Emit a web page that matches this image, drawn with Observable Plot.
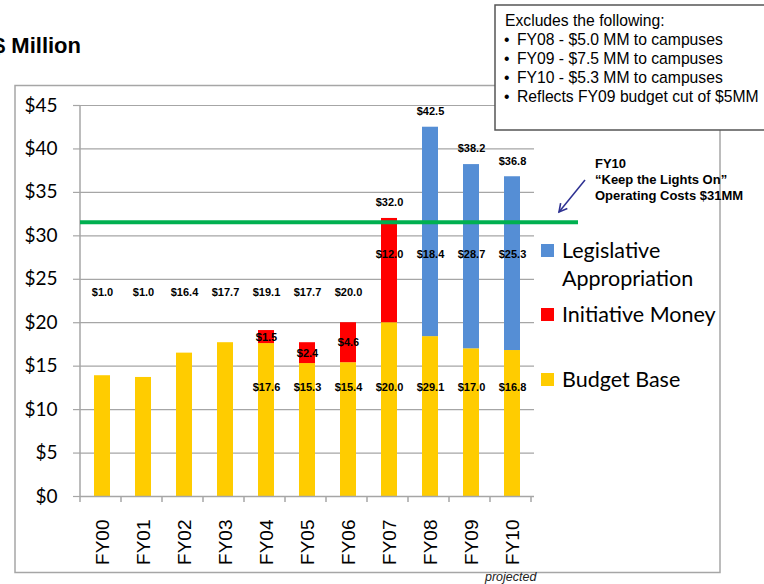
<!DOCTYPE html>
<html>
<head>
<meta charset="utf-8">
<script src="https://cdn.jsdelivr.net/npm/d3@7"></script>
<script src="https://cdn.jsdelivr.net/npm/@observablehq/plot@0.6"></script>
<style>
  html, body { margin: 0; padding: 0; background: #fff; }
</style>
</head>
<body>
<div id="chart"></div>
<script>
// ---- data ----
const years = ["FY00","FY01","FY02","FY03","FY04","FY05","FY06","FY07","FY08","FY09","FY10"];
const budgetBase = [13.9, 13.7, 16.5, 17.7, 17.6, 15.3, 15.4, 20.0, 18.4, 17.0, 16.8];
const initiativeMoney = [0, 0, 0, 0, 1.5, 2.4, 4.6, 12.0, 0, 0, 0];
const legislativeAppropriation = [0, 0, 0, 0, 0, 0, 0, 0, 24.1, 21.2, 20.0];
const topLabels = ["$1.0","$1.0","$16.4","$17.7","$19.1","$17.7","$20.0","$32.0","$42.5","$38.2","$36.8"];
const midLabels = ["","","","","$1.5","$2.4","$4.6","$12.0","$18.4","$28.7","$25.3"];
const bottomLabels = ["","","","","$17.6","$15.3","$15.4","$20.0","$29.1","$17.0","$16.8"];
const seriesNames = ["Budget Base","Initiative Money","Legislative Appropriation"];
const seriesColors = ["#FFCC00","#FF0000","#558ED5"];
const operatingCosts = 31.5;
const yTicks = [0,5,10,15,20,25,30,35,40,45];
const xAxisNote = "projected";
const titleText = "$ Million";
const noteLines = ["Excludes the following:", "FY08 - $5.0 MM to campuses", "FY09 - $7.5 MM to campuses", "FY10 - $5.3 MM to campuses", "Reflects FY09 budget cut of $5MM"];
const annotationLines = ["FY10", "\u201CKeep the Lights On\u201D", "Operating Costs $31MM"];

// ---- tables ----
const rows = [];
years.forEach((yr, i) => {
  [budgetBase, initiativeMoney, legislativeAppropriation].forEach((arr, s) => {
    if (arr[i] > 0) rows.push({year: yr, series: seriesNames[s], value: arr[i]});
  });
});
const totals = years.map((yr, i) => budgetBase[i] + initiativeMoney[i] + legislativeAppropriation[i]);
const topRows = years.map((yr, i) => ({year: yr, label: topLabels[i], y: i < 7 ? 23.5 : totals[i] + 1.8}));
const midRows = years.map((yr, i) => ({year: yr, label: midLabels[i], y: i < 7 ? budgetBase[i] + initiativeMoney[i] / 2 : 27.9})).filter(d => d.label);
const botRows = years.map((yr, i) => ({year: yr, label: bottomLabels[i], y: 12.5})).filter(d => d.label);

const gridColor = "#a6a6a6";
const labelFont = "Liberation Sans, Arial, sans-serif";

const plot = Plot.plot({
  width: 764,
  height: 584,
  marginLeft: 80,
  marginRight: 230,
  marginTop: 105,
  marginBottom: 88,
  style: {fontFamily: labelFont, background: "white", color: "black"},
  x: {domain: years, paddingInner: 0.6, paddingOuter: 0.3, label: null},
  y: {domain: [0, 45], label: null},
  color: {domain: seriesNames, range: seriesColors},
  marks: [
    Plot.gridY(yTicks, {stroke: gridColor, strokeOpacity: 1, strokeWidth: 1.2}),
    Plot.axisY(yTicks, {tickFormat: d => "$" + d, fontSize: 19, fontFamily: "Lato, sans-serif", tickSize: 7, tickPadding: 16, stroke: gridColor, fill: "black", strokeWidth: 1.2}),
    Plot.axisX({tickRotate: -90, tickSize: 0, tickPadding: 23, fontSize: 19, fill: "black"}),
    Plot.barY(rows, {x: "year", y: "value", fill: "series"}),
    Plot.ruleY([0], {stroke: gridColor, strokeWidth: 1.5}),
    Plot.text(topRows, {x: "year", y: "y", text: "label", fontSize: 11, fontWeight: "bold", fill: "black"}),
    Plot.text(midRows, {x: "year", y: "y", text: "label", fontSize: 11, fontWeight: "bold", fill: "black"}),
    Plot.text(botRows, {x: "year", y: "y", text: "label", fontSize: 11, fontWeight: "bold", fill: "black"})
  ]
});

const svg = d3.select(plot);
const xs = plot.scale("x");
const ys = plot.scale("y");
const x0 = xs.range[0];
const y0 = ys.apply(0), yTop = ys.apply(45);

function addText(x, y, t, opts) {
  const el = svg.append("text").attr("x", x).attr("y", y).text(t)
    .attr("text-anchor", "start")
    .attr("font-family", opts.family || labelFont)
    .attr("font-size", opts.size)
    .attr("fill", opts.fill || "black");
  if (opts.weight) el.attr("font-weight", opts.weight);
  if (opts.style) el.attr("font-style", opts.style);
  return el;
}

// outer frame (behind everything)
svg.insert("rect", ":first-child")
  .attr("x", 15).attr("y", 85.5).attr("width", 705).attr("height", 487)
  .attr("fill", "none").attr("stroke", gridColor).attr("stroke-width", 1.5);

// y axis line
svg.append("line").attr("x1", x0).attr("x2", x0).attr("y1", yTop).attr("y2", y0)
  .attr("stroke", gridColor).attr("stroke-width", 1.5);
// category boundary ticks
for (let i = 0; i <= years.length; i++) {
  const xx = x0 + i * xs.step;
  svg.append("line").attr("x1", xx).attr("x2", xx).attr("y1", y0).attr("y2", y0 + 6)
    .attr("stroke", gridColor).attr("stroke-width", 1.5);
}

// green operating costs line
svg.append("line").attr("x1", x0).attr("x2", 578)
  .attr("y1", ys.apply(operatingCosts)).attr("y2", ys.apply(operatingCosts))
  .attr("stroke", "#00B050").attr("stroke-width", 4);

// title
addText(-7, 53, titleText, {size: 22, weight: "bold"});

// projected note
addText(485, 581, xAxisNote, {size: 12.5, style: "italic", fill: "#222"});

// note box
svg.append("rect").attr("x", 495).attr("y", 5).attr("width", 290).attr("height", 125)
  .attr("fill", "white").attr("stroke", "#555").attr("stroke-width", 1.5);
noteLines.forEach((t, i) => {
  const yy = 26 + i * 19.1;
  if (i === 0) {
    addText(505, yy, t, {size: 15.7});
  } else {
    addText(504, yy, "\u2022", {size: 15.7});
    addText(517, yy, t, {size: 15.7});
  }
});

// annotation text + arrow
annotationLines.forEach((t, i) => {
  addText(595, 168 + i * 16, t, {size: 13, weight: "bold"});
});
const ax1 = 585, ay1 = 180, ax2 = 559, ay2 = 212;
svg.append("line").attr("x1", ax1).attr("y1", ay1).attr("x2", ax2).attr("y2", ay2)
  .attr("stroke", "#2E3192").attr("stroke-width", 1.6);
{
  const ang = Math.atan2(ay2 - ay1, ax2 - ax1);
  const L = 9, w = 0.5;
  const p1 = [ax2 - L * Math.cos(ang - w), ay2 - L * Math.sin(ang - w)];
  const p2 = [ax2 - L * Math.cos(ang + w), ay2 - L * Math.sin(ang + w)];
  svg.append("path").attr("d", `M${p1[0]},${p1[1]}L${ax2},${ay2}L${p2[0]},${p2[1]}`)
    .attr("fill", "none").attr("stroke", "#2E3192").attr("stroke-width", 1.6);
}

// legend
const legendItems = [
  {lines: ["Legislative", "Appropriation"], color: seriesColors[2], sq: 244, base: 258},
  {lines: ["Initiative Money"], color: seriesColors[1], sq: 308, base: 322},
  {lines: ["Budget Base"], color: seriesColors[0], sq: 373, base: 387}
];
legendItems.forEach(it => {
  svg.append("rect").attr("x", 541).attr("y", it.sq).attr("width", 13).attr("height", 13).attr("fill", it.color);
  it.lines.forEach((t, j) => {
    addText(562, it.base + j * 28, t, {size: 21.5, family: "Lato, sans-serif"});
  });
});

document.getElementById("chart").appendChild(plot);
</script>
</body>
</html>
